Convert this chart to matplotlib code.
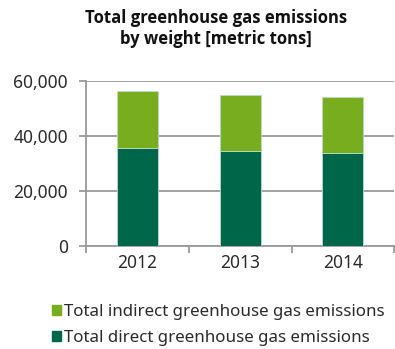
import matplotlib
matplotlib.use("Agg")
import matplotlib.pyplot as plt
from matplotlib.patches import Patch
import numpy as np

# data
years = ['2012', '2013', '2014']
direct = [35500, 34400, 33900]
indirect = [20900, 20500, 20100]

plt.rcParams['font.family'] = ['Noto Sans', 'DejaVu Sans']

col_direct = '#006649'
col_indirect = '#78AD20'
grid_col = '#9a9a9a'
text_col = '#2b2b2b'

fig = plt.figure(figsize=(3.95, 3.49), dpi=100)
ax = fig.add_axes([0.218, 0.295, 0.78, 0.473])

x = np.arange(len(years))
ax.bar(x, direct, width=0.4, color=col_direct, edgecolor='#b8dcc8', linewidth=0.6, zorder=3)
ax.bar(x, indirect, width=0.4, bottom=direct, color=col_indirect, edgecolor='#b8dcc8',
       linewidth=0.6, zorder=3)

ax.set_xlim(-0.5, len(years) - 0.5)
ax.set_ylim(0, 60000)
ax.set_yticks([0, 20000, 40000, 60000])
ax.set_yticklabels([f'{v:,}' for v in [0, 20000, 40000, 60000]])
ax.yaxis.grid(True, color=grid_col, linewidth=1.3, zorder=0)
ax.tick_params(axis='y', length=5, width=1.3, color=grid_col, labelsize=12.5,
               labelcolor=text_col, pad=8)

ax.set_xticks(x)
ax.set_xticklabels(years)
ax.set_xticks(np.arange(-0.5, len(years), 1), minor=True)
ax.tick_params(axis='x', which='major', length=0, labelsize=12.5, labelcolor=text_col, pad=6)
ax.tick_params(axis='x', which='minor', length=5, width=1.3, color=grid_col)

for s in ['top', 'right']:
    ax.spines[s].set_visible(False)
ax.spines['left'].set_color(grid_col)
ax.spines['left'].set_linewidth(1.3)
ax.spines['bottom'].set_color(grid_col)
ax.spines['bottom'].set_linewidth(1.3)

fig.text(0.547, 0.918, 'Total greenhouse gas emissions\nby weight [metric tons]',
         ha='center', va='center', fontsize=12, fontweight='bold', color='#111111',
         linespacing=1.2, family=['Open Sans', 'DejaVu Sans'])

handles = [Patch(color=col_indirect, label='Total indirect greenhouse gas emissions'),
           Patch(color=col_direct, label='Total direct greenhouse gas emissions')]
fig.legend(handles=handles, loc='lower left', bbox_to_anchor=(0.132, 0.008), frameon=False,
           fontsize=12.2, handlelength=0.55, handleheight=0.55, handletextpad=0.15,
           labelspacing=0.6, labelcolor=text_col, borderpad=0, borderaxespad=0)

fig.savefig('out.png', dpi=100)
